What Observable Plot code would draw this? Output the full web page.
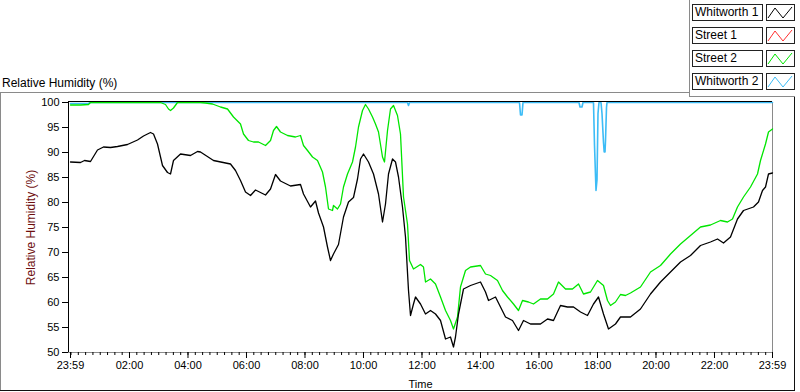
<!DOCTYPE html>
<html>
<head>
<meta charset="utf-8">
<script src="https://cdn.jsdelivr.net/npm/d3@7"></script>
<script src="https://cdn.jsdelivr.net/npm/@observablehq/plot@0.6"></script>
<style>
  html, body { margin: 0; padding: 0; background: #fff; }
  #wrap { position: relative; width: 800px; height: 392px; background: #fff; overflow: hidden;
          font-family: "Liberation Sans", Arial, sans-serif; }
  #chart { position: absolute; left: 0; top: 0; }
  .ln { position: absolute; }
  .lgText { position: absolute; left: 692px; width: 71px; height: 17px; box-sizing: border-box;
            border: 1px solid #222; font-size: 12px; line-height: 15px; padding-left: 2px; color: #000; background: #fff; }
  .lgSw { position: absolute; left: 766px; width: 29px; height: 17px; box-sizing: border-box;
          border: 1px solid #222; background: #fff; }
  .lgSw svg { display: block; }
</style>
</head>
<body>
<div id="wrap">
  <div id="chart"></div>
  <div id="topLabel" style="position:absolute;left:2px;top:76px;font-size:12px;line-height:14px;color:#000;">Relative Humidity (%)</div>
  <div id="legend"></div>
</div>
<script>
// ---- data (hours since 23:59 start, relative humidity %) ----
const seriesNames = ["Whitworth 1", "Street 1", "Street 2", "Whitworth 2"];
const seriesColors = ["#000000", "#ff3030", "#00e600", "#3cbcf6"];

const yTicks = [50, 55, 60, 65, 70, 75, 80, 85, 90, 95, 100];
const timeTickLabels = ["23:59","02:00","04:00","06:00","08:00","10:00","12:00","14:00","16:00","18:00","20:00","22:00","23:59"];

const whitworth1Hours = [0,0.342,0.479,0.684,0.923,1.128,1.368,1.607,1.949,2.291,2.496,2.735,2.838,2.974,3.145,3.316,3.419,3.521,3.761,4.103,4.342,4.444,4.889,5.470,5.641,5.812,5.983,6.154,6.325,6.667,6.838,7.009,7.179,7.521,7.863,7.966,8.205,8.376,8.479,8.650,8.786,8.889,8.991,9.162,9.333,9.504,9.675,9.812,9.915,10.017,10.188,10.359,10.530,10.667,10.769,10.872,11.009,11.111,11.214,11.350,11.453,11.556,11.624,11.726,11.795,11.966,12.137,12.308,12.479,12.650,12.821,12.991,13.094,13.162,13.265,13.436,13.675,14.017,14.188,14.291,14.530,14.701,14.872,15.111,15.316,15.487,15.726,16.068,16.308,16.513,16.752,16.991,17.197,17.436,17.675,17.880,18.051,18.222,18.393,18.632,18.803,19.145,19.487,19.829,20.171,20.513,20.855,21.197,21.538,21.880,22.120,22.325,22.564,22.803,23.009,23.350,23.521,23.658,23.761,23.863,24.0];
const whitworth1Values = [88.1,88.0,88.4,88.2,90.5,91.1,91.0,91.2,91.6,92.5,93.3,94.0,93.7,91.7,87.4,86.0,85.7,88.4,89.7,89.4,90.2,90.1,88.4,87.7,86.4,84.4,82.1,81.4,82.5,81.5,82.7,85.6,84.3,83.3,83.6,81.7,79.1,80.3,77.9,75.1,71.1,68.4,69.7,71.6,77.1,80.1,81.0,84.7,88.7,89.7,88.1,85.7,81.7,76.1,79.7,85.7,88.7,88.1,85.1,79.1,73.1,62.4,57.4,59.7,61.1,59.7,57.7,58.4,57.7,56.4,52.7,53.1,51.1,53.1,57.7,62.7,63.4,64.1,62.1,60.4,61.1,59.1,57.1,56.4,54.4,56.4,55.7,55.7,56.7,56.4,59.4,59.1,59.1,58.1,57.4,59.7,61.1,57.7,54.7,55.7,57.1,57.1,58.7,61.7,64.1,66.1,68.1,69.4,71.4,72.1,72.7,71.9,73.1,76.7,78.4,79.1,80.1,82.4,83.1,85.7,85.9];

const street2Hours = [0,0.342,0.615,0.684,3.077,3.248,3.350,3.419,3.521,3.658,4.444,4.615,4.855,5.128,5.368,5.573,5.812,5.915,6.085,6.256,6.427,6.667,6.838,6.940,7.043,7.179,7.419,7.692,7.863,7.966,8.103,8.274,8.444,8.615,8.718,8.821,8.957,8.991,9.128,9.231,9.333,9.470,9.641,9.744,9.846,9.983,10.085,10.188,10.325,10.427,10.530,10.667,10.735,10.838,10.940,11.043,11.179,11.282,11.385,11.521,11.590,11.726,11.966,12.068,12.137,12.308,12.479,12.650,12.821,12.991,13.094,13.231,13.333,13.504,13.675,14.017,14.188,14.359,14.598,14.769,14.940,15.145,15.316,15.453,15.658,15.829,16.068,16.308,16.513,16.684,16.923,17.162,17.368,17.538,17.778,18.017,18.222,18.359,18.462,18.632,18.803,18.974,19.145,19.487,19.829,20.171,20.513,20.855,21.197,21.538,21.880,22.222,22.462,22.632,22.803,23.009,23.248,23.487,23.590,23.761,23.863,24.0];
const street2Values = [99.5,99.5,99.6,100,100,99.6,98.7,98.4,98.9,100,100,99.9,99.7,99.1,98.7,97.1,95.7,93.7,92.4,92.1,92.1,91.4,92.4,94.4,95.2,94.1,93.4,93.1,93.4,91.4,90.4,89.1,88.4,86.1,83.1,78.7,78.4,79.4,78.7,79.7,83.1,85.7,88.1,91.1,95.1,98.4,99.6,98.7,97.1,95.7,94.1,89.1,88.1,94.4,98.7,99.4,97.4,93.7,81.1,75.7,68.4,66.7,67.6,67.1,64.1,64.7,63.7,61.1,58.4,56.4,54.7,57.1,63.1,66.4,67.1,67.4,65.7,65.4,64.4,62.4,61.1,59.7,58.4,60.4,60.1,59.7,60.7,60.7,61.7,64.1,62.7,62.7,63.7,61.7,62.1,64.4,63.4,60.4,59.4,60.1,61.6,61.4,61.9,63.1,66.1,67.4,69.7,71.7,73.4,75.1,75.5,76.4,76.1,76.7,79.1,81.1,83.1,85.7,88.4,91.7,94.1,94.7];

const whitworth2Hours = [0,0.6,0.68,11.521,11.556,11.590,15.350,15.385,15.436,15.470,17.385,17.419,17.487,17.521,17.880,17.915,17.966,18.000,18.034,18.068,18.137,18.171,18.222,18.246,18.274,18.291,18.325,18.342,24.0];
const whitworth2Values = [99.8,99.8,100,100,99.4,100,100,97.5,97.5,100,100,99.1,99.1,100,100,91.4,82.4,84.5,97.8,100,100,97.8,92.0,90.1,90.1,92.4,99.0,100,100];

// ---- build ----
const toRows = (hs, vs) => hs.map((h, i) => ({h, v: vs[i]}));
const w1 = toRows(whitworth1Hours, whitworth1Values);
const s2 = toRows(street2Hours, street2Values);
const w2 = toRows(whitworth2Hours, whitworth2Values);

const startMin = 23 * 60 + 59;
const majorTicks = timeTickLabels.map((s, i) => {
  const [H, M] = s.split(":").map(Number);
  let h = (((H * 60 + M) - startMin + 1440) % 1440) / 60;
  if (i === timeTickLabels.length - 1) h = 24;
  return h;
});
const minorTicks = d3.range(0, 96).map(k => 1 / 60 + k * 0.25).filter(t => t < 24);

const chart = Plot.plot({
  width: 800,
  height: 392,
  marginLeft: 68,
  marginRight: 28,
  marginTop: 102,
  marginBottom: 40,
  style: {fontFamily: "'Liberation Sans', Arial, sans-serif", fontSize: "11px", background: "transparent", color: "#000", overflow: "visible"},
  x: {domain: [0, 24], insetLeft: 2},
  y: {domain: [50, 100]},
  marks: [
    Plot.ruleY([50], {stroke: "#8a8a8a"}),
    Plot.ruleX([24], {stroke: "#8a8a8a"}),
    Plot.line(w2, {x: "h", y: "v", stroke: seriesColors[3], strokeWidth: 1.6}),
    Plot.line(s2, {x: "h", y: "v", stroke: seriesColors[2], strokeWidth: 1.3}),
    Plot.line(w1, {x: "h", y: "v", stroke: seriesColors[0], strokeWidth: 1.3}),
    Plot.ruleY([100], {stroke: "#000", dy: -1}),
    Plot.ruleX([0], {stroke: "#000", dx: -2}),
    Plot.axisY({ticks: yTicks, tickSize: 6, tickPadding: 3, label: null}),
    Plot.axisY({ticks: [], tickSize: 0, label: "Relative Humidity (%)", labelAnchor: "center", labelArrow: "none", labelOffset: 42, color: "#6e0f0f", fontSize: 12}),
    Plot.axisX({ticks: minorTicks, tickSize: 3, tickFormat: () => "", label: null}),
    Plot.axisX({ticks: majorTicks, tickSize: 6, tickPadding: 3,
                tickFormat: d => timeTickLabels[majorTicks.indexOf(d)],
                label: "Time", labelAnchor: "center", labelArrow: "none", labelOffset: 35, fontSize: 11})
  ]
});
document.getElementById("chart").appendChild(chart);

// ---- frame lines & legend (layout) ----
const wrap = document.getElementById("wrap");
function hline(x, y, w, c) { const d = document.createElement("div"); d.className = "ln";
  Object.assign(d.style, {left: x + "px", top: y + "px", width: w + "px", height: "1px", background: c}); wrap.appendChild(d); }
function vline(x, y, h, c) { const d = document.createElement("div"); d.className = "ln";
  Object.assign(d.style, {left: x + "px", top: y + "px", width: "1px", height: h + "px", background: c}); wrap.appendChild(d); }
hline(0, 92, 690, "#8a8a8a");
vline(0, 92, 299, "#8a8a8a");
hline(0, 390, 795, "#111");
vline(794, 96, 295, "#111");
vline(689, 0, 97, "#8a8a8a");
hline(689, 96, 106, "#8a8a8a");

const legend = document.getElementById("legend");
const tops = [4, 27, 50, 73];
seriesNames.forEach((name, i) => {
  const t = document.createElement("div");
  t.className = "lgText";
  t.style.top = tops[i] + "px";
  t.textContent = name;
  legend.appendChild(t);
  const s = document.createElement("div");
  s.className = "lgSw";
  s.style.top = tops[i] + "px";
  s.innerHTML = `<svg width="27" height="15"><polyline points="1,13 8,3 16,13 25,2" fill="none" stroke="${seriesColors[i]}" stroke-width="1"/></svg>`;
  legend.appendChild(s);
});
</script>
</body>
</html>
